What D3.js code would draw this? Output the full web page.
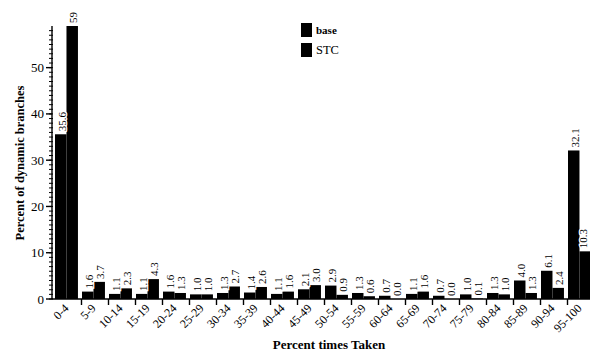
<!DOCTYPE html>
<html>
<head>
<meta charset="utf-8">
<script src="https://cdn.jsdelivr.net/npm/d3@7"></script>
<style>
  html, body { margin: 0; padding: 0; background: #fff; }
  svg { display: block; }
  text { font-family: "Liberation Serif", "DejaVu Serif", serif; fill: #000; }
</style>
</head>
<body>
<svg id="chart" width="590" height="352"></svg>
<script>
// Branch-taken histogram: share of dynamic branches per "percent taken" bucket
const categories = ["0-4","5-9","10-14","15-19","20-24","25-29","30-34","35-39","40-44","45-49",
                    "50-54","55-59","60-64","65-69","70-74","75-79","80-84","85-89","90-94","95-100"];
const baseLabels = ["35.6","1.6","1.1","1.1","1.6","1.0","1.3","1.4","1.1","2.1",
                    "2.9","1.3","0.7","1.1","0.7","1.0","1.3","4.0","6.1","32.1"];
const stcLabels  = ["59","3.7","2.3","4.3","1.3","1.0","2.7","2.6","1.6","3.0",
                    "0.9","0.6","0.0","1.6","0.0","0.1","1.0","1.3","2.4","10.3"];
const seriesNames = ["base", "STC"];
const yMajorTicks = [0, 10, 20, 30, 40, 50];

const baseValues = baseLabels.map(Number);
const stcValues = stcLabels.map(Number);

const rows = categories.map((c, i) => ({
  cat: c,
  bars: [
    { key: "base", value: baseValues[i], label: baseLabels[i] },
    { key: "STC", value: stcValues[i], label: stcLabels[i] }
  ]
}));

const svg = d3.select("#chart");
const W = 590, x0 = 55, x1 = 595, yBottom = 299, yTop = 26;

const x = d3.scaleBand().domain(categories).range([x0, x1])
  .paddingInner(0.15).paddingOuter(0.075).align(0);
const xi = d3.scaleBand().domain(seriesNames).range([0, x.bandwidth()]);
const y = d3.scaleLinear().domain([0, 59]).range([yBottom, yTop]);

// bars
const groups = svg.append("g").selectAll("g").data(rows).join("g")
  .attr("transform", d => `translate(${x(d.cat)},0)`);
groups.selectAll("rect").data(d => d.bars).join("rect")
  .attr("x", d => xi(d.key))
  .attr("y", d => y(d.value))
  .attr("width", xi.bandwidth())
  .attr("height", d => y(0) - y(d.value))
  .attr("fill", "#000");

// value labels, rotated, with a white halo; kept inside the right edge
groups.selectAll("text").data(d => d.bars).join("text")
  .attr("transform", function (d) {
    const gx = x(d3.select(this.parentNode).datum().cat);
    let cx = xi(d.key) + xi.bandwidth() / 2 + 1;
    cx = Math.min(cx, W - 7 - gx);
    return `translate(${cx},${y(d.value) - 3}) rotate(-90)`;
  })
  .attr("dy", "0.35em")
  .attr("text-anchor", "start")
  .attr("font-size", 11)
  .attr("stroke", "#fff").attr("stroke-width", 2.5).attr("paint-order", "stroke")
  .text(d => d.label);

// y axis with minor ticks every unit
const yAxis = svg.append("g").attr("transform", "translate(52,0)");
yAxis.append("line").attr("x1", 0).attr("x2", 0).attr("y1", y(0)).attr("y2", y(59))
  .attr("stroke", "#000").attr("stroke-width", 1.4);
yAxis.selectAll("line.minor").data(d3.range(0, 59)).join("line").attr("class", "minor")
  .attr("x1", -3).attr("x2", 1).attr("y1", d => y(d)).attr("y2", d => y(d))
  .attr("stroke", "#000").attr("stroke-width", 1);
yAxis.selectAll("line.major").data(yMajorTicks).join("line").attr("class", "major")
  .attr("x1", -6).attr("x2", 0).attr("y1", d => y(d)).attr("y2", d => y(d))
  .attr("stroke", "#000").attr("stroke-width", 1.4);
yAxis.selectAll("text").data(yMajorTicks).join("text")
  .attr("x", -8).attr("y", d => y(d)).attr("dy", "0.35em")
  .attr("text-anchor", "end").attr("font-size", 13)
  .text(d => d);

// x axis: baseline, separator ticks, slanted category labels
const xAxis = svg.append("g");
xAxis.append("line").attr("x1", 52).attr("x2", 590).attr("y1", yBottom).attr("y2", yBottom)
  .attr("stroke", "#000").attr("stroke-width", 1.4);
xAxis.selectAll("line.sep").data(categories.slice(1)).join("line").attr("class", "sep")
  .attr("x1", d => x(d) - 0.5).attr("x2", d => x(d) - 0.5)
  .attr("y1", yBottom).attr("y2", yBottom + 6)
  .attr("stroke", "#000").attr("stroke-width", 1.4);
xAxis.selectAll("text").data(categories).join("text")
  .attr("transform", d => `translate(${x(d) + x.bandwidth() / 2 + 3},${yBottom + 10}) rotate(-45)`)
  .attr("text-anchor", "end").attr("font-size", 12)
  .text(d => d);

// axis titles
svg.append("text").attr("x", 329).attr("y", 349).attr("text-anchor", "middle")
  .attr("font-size", 13).attr("font-weight", "bold").text("Percent times Taken");
svg.append("text").attr("transform", "translate(24,163) rotate(-90)")
  .attr("text-anchor", "middle").attr("font-size", 12.5).attr("font-weight", "bold")
  .text("Percent of dynamic branches");

// legend
const legend = svg.append("g");
const legendItems = [
  { name: seriesNames[0], y: 23, size: 11, weight: "bold" },
  { name: seriesNames[1], y: 43, size: 12.5, weight: "normal" }
];
legend.selectAll("rect").data(legendItems).join("rect")
  .attr("x", 301).attr("y", d => d.y).attr("width", 11).attr("height", 14).attr("fill", "#000");
legend.selectAll("text").data(legendItems).join("text")
  .attr("x", 316).attr("y", d => d.y + 7).attr("dy", "0.35em")
  .attr("font-size", d => d.size).attr("font-weight", d => d.weight)
  .text(d => d.name);
</script>
</body>
</html>
